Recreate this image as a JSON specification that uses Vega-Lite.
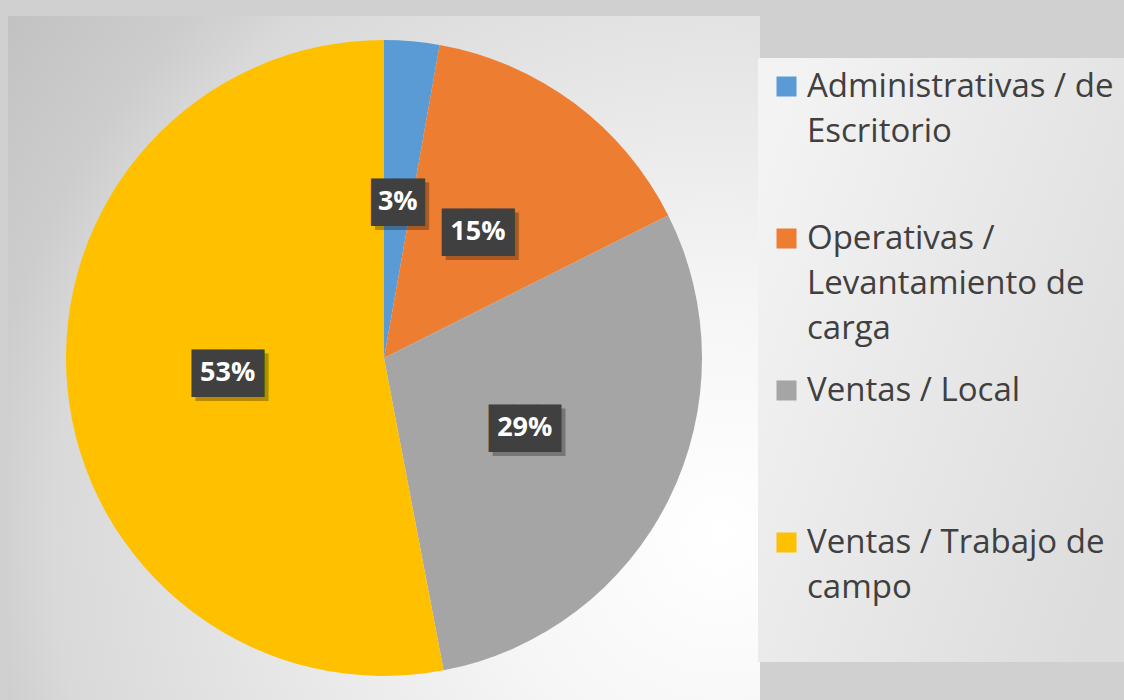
{
  "$schema": "https://vega.github.io/schema/vega-lite/v6.json",
  "width": 752,
  "height": 684,
  "padding": {"left": 8, "top": 16, "right": 0, "bottom": 0},
  "background": "#d0d0d0",
  "view": {
    "stroke": null,
    "fill": {
      "gradient": "radial",
      "x1": 0.947, "y1": 0.737, "r1": 0,
      "x2": 0.947, "y2": 0.737, "r2": 1.2,
      "stops": [
        {"offset": 0, "color": "#ffffff"},
        {"offset": 0.25, "color": "#f6f6f6"},
        {"offset": 0.74, "color": "#d9d9d9"},
        {"offset": 0.82, "color": "#cdcdcd"},
        {"offset": 1, "color": "#c0c0c0"}
      ]
    }
  },
  "data": {
    "values": [
      {"category": "Administrativas / de Escritorio", "share": 0.028},
      {"category": "Operativas / Levantamiento de carga", "share": 0.148},
      {"category": "Ventas / Local", "share": 0.294},
      {"category": "Ventas / Trabajo de campo", "share": 0.53}
    ]
  },
  "encoding": {
    "theta": {"field": "share", "type": "quantitative", "stack": true}
  },
  "layer": [
    {
      "mark": {"type": "arc", "outerRadius": 318},
      "encoding": {
        "color": {
          "field": "category",
          "type": "nominal",
          "scale": {
            "domain": ["Administrativas / de Escritorio", "Operativas / Levantamiento de carga", "Ventas / Local", "Ventas / Trabajo de campo"],
            "range": ["#5B9BD5", "#ED7D31", "#A5A5A5", "#FFC000"]
          },
          "legend": {
            "orient": "none",
            "legendX": 750,
            "legendY": 42,
            "title": null,
            "symbolType": "square",
            "symbolSize": 400,
            "symbolStrokeWidth": 0,
            "labelFont": "Open Sans",
            "labelFontSize": 33,
            "labelFontWeight": "normal",
            "labelColor": "#404040",
            "labelOffset": 4,
            "labelLimit": 500,
            "rowPadding": 28,
            "padding": 12,
            "fillColor": {
              "value": {
                "gradient": "linear",
                "x1": 0, "y1": 0.2, "x2": 1, "y2": 0.8,
                "stops": [
                  {"offset": 0, "color": "#f3f3f3"},
                  {"offset": 1, "color": "#dcdcdc"}
                ]
              }
            },
            "labelExpr": "datum.label === 'Administrativas / de Escritorio' ? ['Administrativas / de', 'Escritorio', ''] : datum.label === 'Operativas / Levantamiento de carga' ? ['Operativas /', 'Levantamiento de', 'carga'] : datum.label === 'Ventas / Local' ? ['Ventas / Local', '', ''] : ['Ventas / Trabajo de', 'campo', '']"
          }
        }
      }
    },
    {
      "mark": {"type": "text", "radius": 157, "font": "DejaVu Sans Mono", "fontSize": 40, "dx": 4, "dy": 6, "color": "#000000", "opacity": 0.28},
      "encoding": {
        "detail": {"field": "category"},
        "text": {"condition": {"test": "datum.share < 0.1", "value": "▕██▏"}, "value": "███"}
      }
    },
    {
      "mark": {"type": "text", "radius": 157, "font": "DejaVu Sans Mono", "fontSize": 40, "dy": 2, "color": "#404040"},
      "encoding": {
        "detail": {"field": "category"},
        "text": {"condition": {"test": "datum.share < 0.1", "value": "▕██▏"}, "value": "███"}
      }
    },
    {
      "mark": {"type": "text", "radius": 157, "font": "Open Sans", "fontSize": 27, "fontWeight": "bold", "color": "#ffffff"},
      "encoding": {
        "detail": {"field": "category"},
        "text": {"field": "share", "type": "quantitative", "format": ".0%"}
      }
    }
  ],
  "config": {
    "style": {"guide-label": {"lineHeight": 45}}
  }
}
